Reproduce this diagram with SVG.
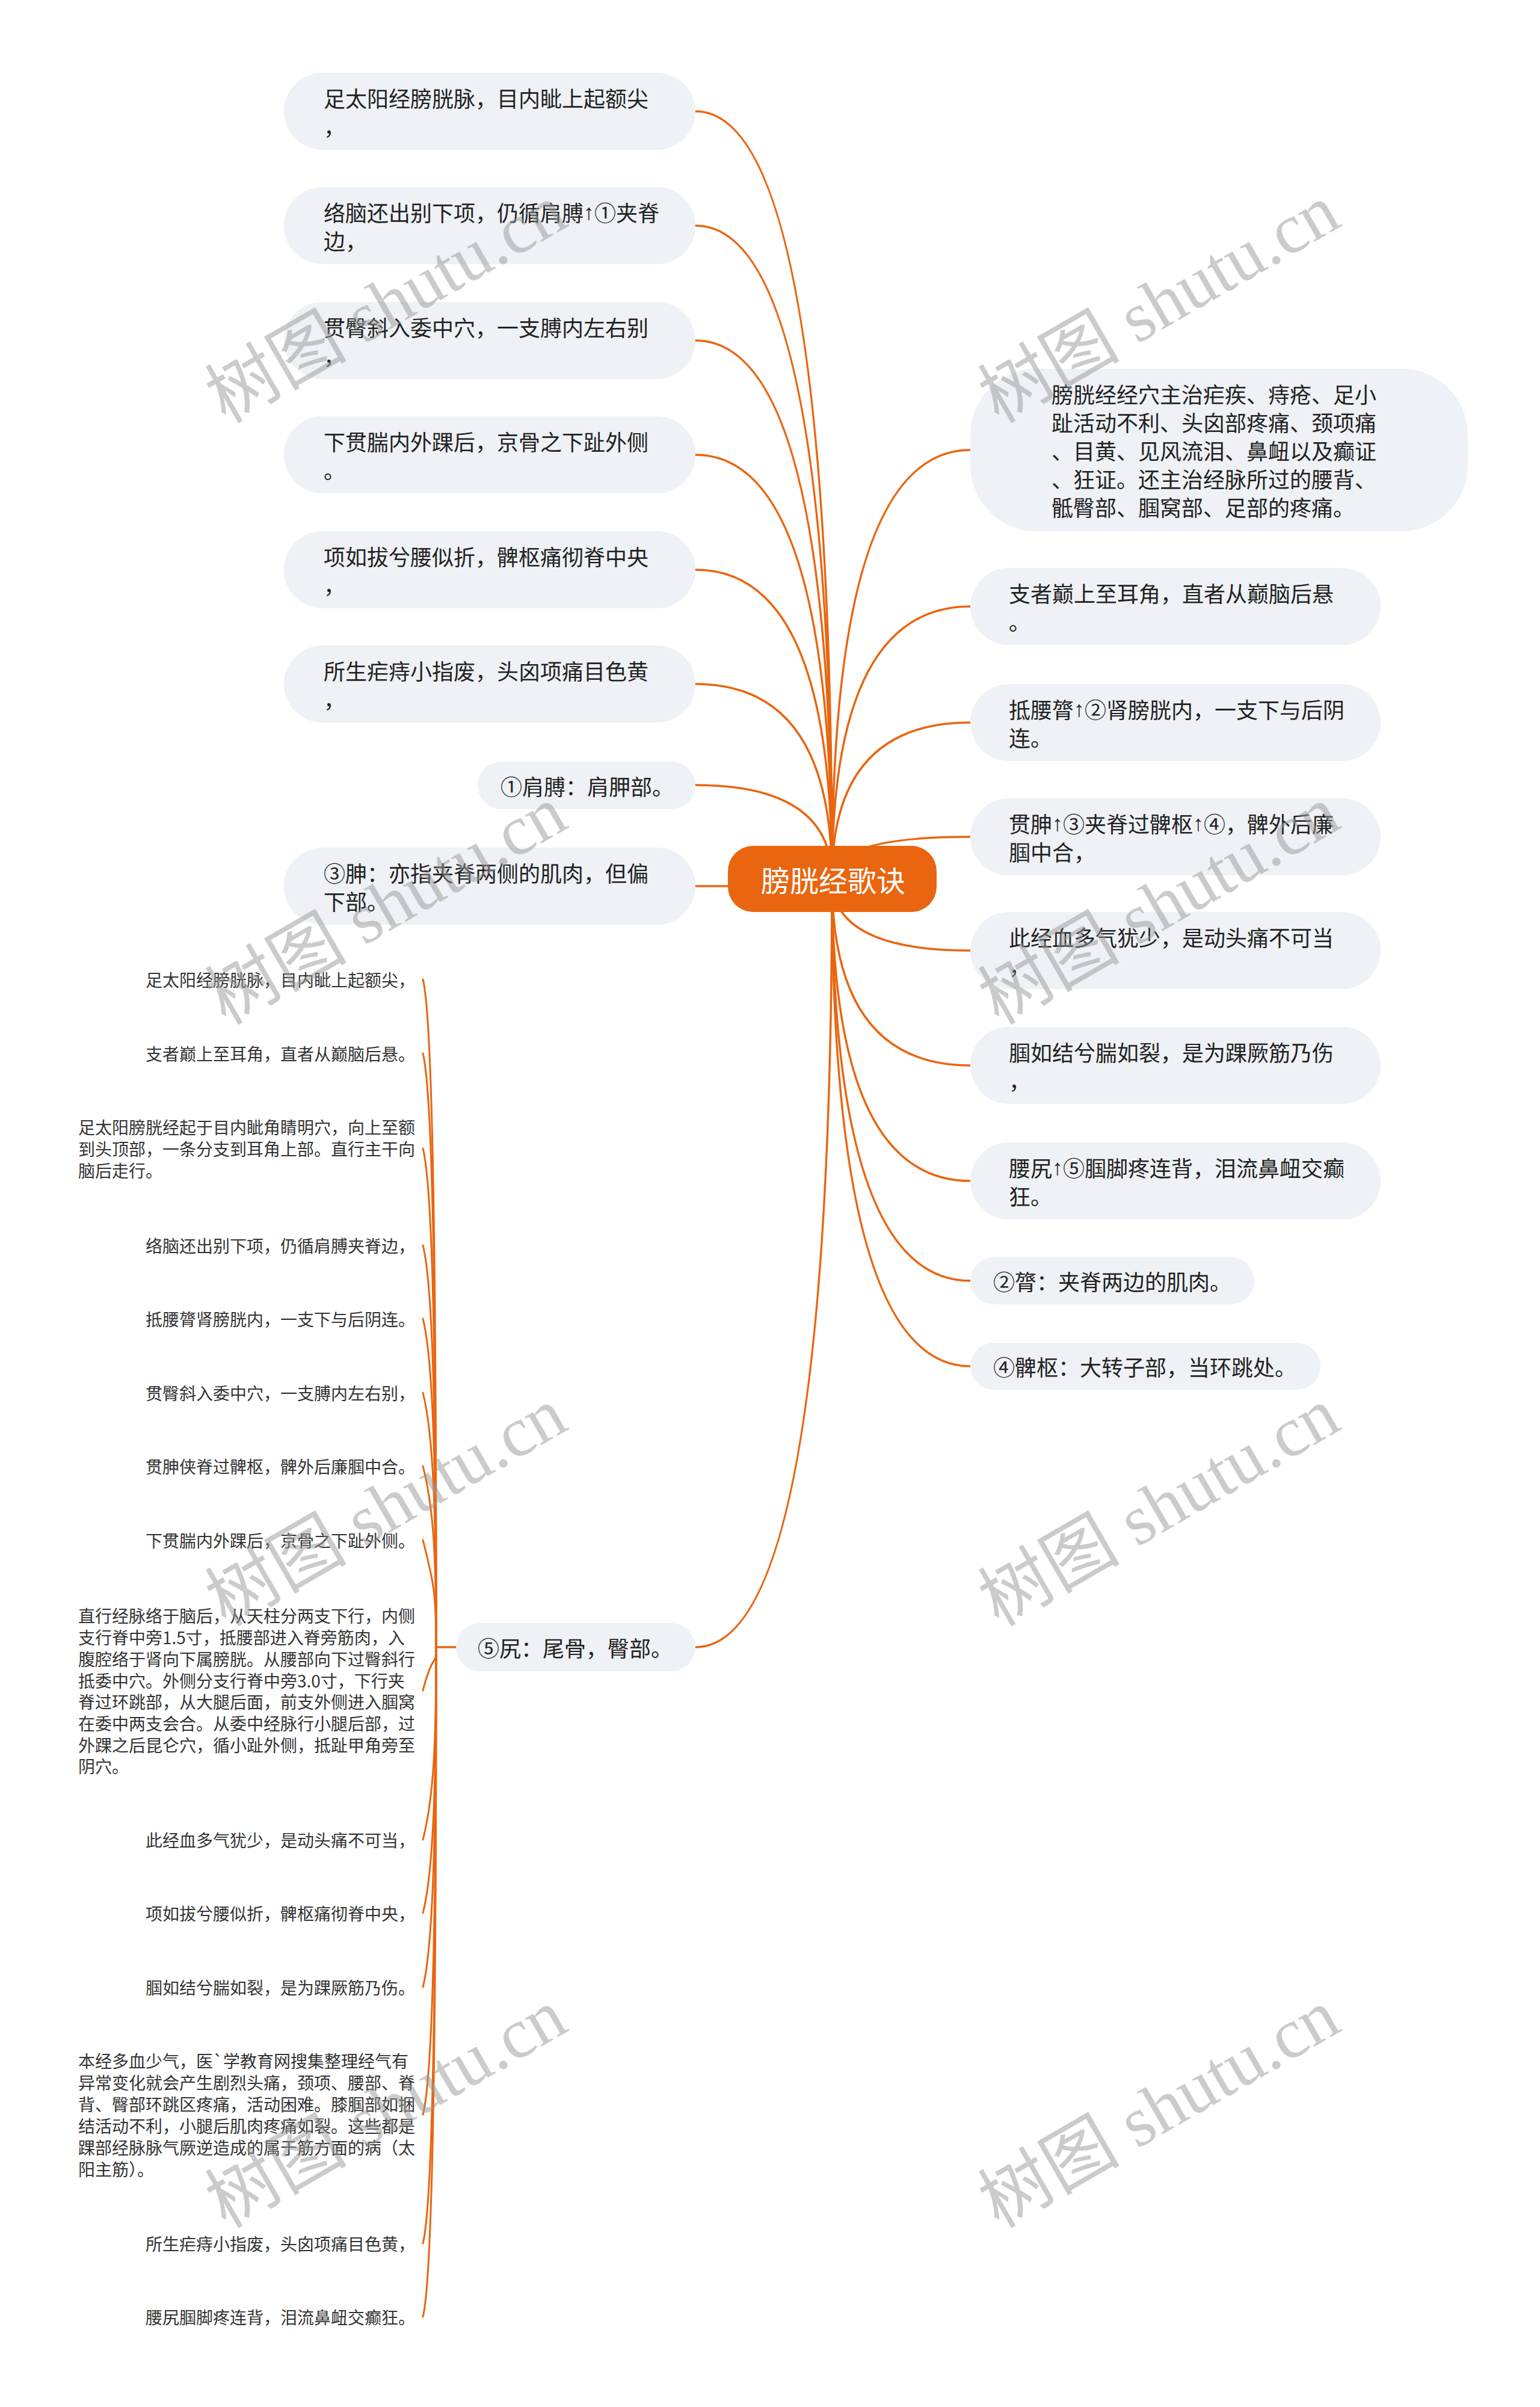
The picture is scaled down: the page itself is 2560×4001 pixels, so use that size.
<svg xmlns="http://www.w3.org/2000/svg" width="2560" height="4001" viewBox="0 0 2560 4001">
<style>
.bg{fill:#ffffff}
.box{fill:#eef1f5}
.t{font-family:"Noto Sans CJK SC","Noto Sans",sans-serif;font-size:36px;fill:#222;dominant-baseline:central}
.ar{font-family:"Liberation Sans","DejaVu Sans",sans-serif}
.s{font-family:"Noto Sans CJK SC","Noto Sans",sans-serif;font-size:28px;fill:#333;dominant-baseline:central}
.root{fill:#e9650f}
.rt{font-family:"Noto Sans CJK SC","Noto Sans",sans-serif;font-size:48px;fill:#ffffff;dominant-baseline:central;text-anchor:middle}
.c{fill:none;stroke:#e9650f;stroke-width:3.5;stroke-linecap:round}
.k{fill:none;stroke:#e9650f;stroke-width:3;stroke-linecap:round}
.wm{font-family:"Liberation Serif","Noto Sans CJK SC",serif;font-size:118px;fill:#999;opacity:0.5}
</style>
<rect class="bg" x="0" y="0" width="2560" height="4001"/>
<g id="connectors">
<path class="c" d="M1383,1461 Q1383,185 1156,185"/>
<path class="c" d="M1383,1461 Q1383,375 1156,375"/>
<path class="c" d="M1383,1461 Q1383,566 1156,566"/>
<path class="c" d="M1383,1461 Q1383,756 1156,756"/>
<path class="c" d="M1383,1461 Q1383,947 1156,947"/>
<path class="c" d="M1383,1461 Q1383,1137 1156,1137"/>
<path class="c" d="M1383,1461 Q1383,1305 1156,1305"/>
<path class="c" d="M1383,1461 Q1383,1473 1156,1473"/>
<path class="c" d="M1383,1461 Q1383,2738 1156,2738"/>
<path class="c" d="M1383,1461 Q1383,748 1613,748"/>
<path class="c" d="M1383,1461 Q1383,1008 1613,1008"/>
<path class="c" d="M1383,1461 Q1383,1201 1613,1201"/>
<path class="c" d="M1383,1461 Q1383,1391 1613,1391"/>
<path class="c" d="M1383,1461 Q1383,1580 1613,1580"/>
<path class="c" d="M1383,1461 Q1383,1771 1613,1771"/>
<path class="c" d="M1383,1461 Q1383,1963 1613,1963"/>
<path class="c" d="M1383,1461 Q1383,2129 1613,2129"/>
<path class="c" d="M1383,1461 Q1383,2271 1613,2271"/>
<path class="c" d="M758,2738 L725,2738"/>
<path class="k" d="M725,2738 C725,2183 721,1697 703,1628"/>
<path class="k" d="M725,2738 C725,2244 721,1821 703,1751"/>
<path class="k" d="M725,2738 C725,2323 721,1979 703,1909"/>
<path class="k" d="M725,2738 C725,2404 721,2140 703,2070"/>
<path class="k" d="M725,2738 C725,2465 721,2262 703,2192"/>
<path class="k" d="M725,2738 C725,2526 721,2385 703,2315"/>
<path class="k" d="M725,2738 C725,2588 721,2507 703,2437"/>
<path class="k" d="M725,2738 C725,2649 721,2630 703,2560"/>
<path class="k" d="M725,2738 C725,2774 721,2740 703,2810"/>
<path class="k" d="M725,2738 C725,2898 721,2988 703,3058"/>
<path class="k" d="M725,2738 C725,2959 721,3110 703,3180"/>
<path class="k" d="M725,2738 C725,3020 721,3233 703,3303"/>
<path class="k" d="M725,2738 C725,3126 721,3445 703,3515"/>
<path class="k" d="M725,2738 C725,3233 721,3659 703,3729"/>
<path class="k" d="M725,2738 C725,3294 721,3781 703,3851"/>
</g>
<g id="root">
<rect class="root" x="1210" y="1406" width="347" height="110" rx="42"/>
<text class="rt" x="1385" y="1461">膀胱经歌诀</text>
</g>
<g id="L1"><rect class="box" x="472" y="121" width="684" height="128" rx="64"/>
<text class="t" x="538" y="161.5">足太阳经膀胱脉，目内眦上起额尖</text><text class="t" x="538" y="208.5">，</text></g>
<g id="L2"><rect class="box" x="472" y="311" width="684" height="128" rx="64"/>
<text class="t" x="538" y="351.5">络脑还出别下项，仍循肩膊<tspan class="ar">↑</tspan>①夹脊</text><text class="t" x="538" y="398.5">边，</text></g>
<g id="L3"><rect class="box" x="472" y="502" width="684" height="128" rx="64"/>
<text class="t" x="538" y="542.5">贯臀斜入委中穴，一支膊内左右别</text><text class="t" x="538" y="589.5">，</text></g>
<g id="L4"><rect class="box" x="472" y="692" width="684" height="128" rx="64"/>
<text class="t" x="538" y="732.5">下贯腨内外踝后，京骨之下趾外侧</text><text class="t" x="538" y="779.5">。</text></g>
<g id="L5"><rect class="box" x="472" y="883" width="684" height="128" rx="64"/>
<text class="t" x="538" y="923.5">项如拔兮腰似折，髀枢痛彻脊中央</text><text class="t" x="538" y="970.5">，</text></g>
<g id="L6"><rect class="box" x="472" y="1073" width="684" height="128" rx="64"/>
<text class="t" x="538" y="1113.5">所生疟痔小指废，头囟项痛目色黄</text><text class="t" x="538" y="1160.5">，</text></g>
<g id="L7"><rect class="box" x="794" y="1266" width="362" height="79" rx="39.5"/>
<text class="t" x="832" y="1305.5">①肩膊：肩胛部。</text></g>
<g id="L8"><rect class="box" x="472" y="1409" width="684" height="128" rx="64"/>
<text class="t" x="538" y="1449.5">③胂：亦指夹脊两侧的肌肉，但偏</text><text class="t" x="538" y="1496.5">下部。</text></g>
<g id="R1"><rect class="box" x="1613" y="613" width="827" height="270" rx="110"/>
<text class="t" x="1748" y="654">膀胱经经穴主治疟疾、痔疮、足小</text>
<text class="t" x="1748" y="701">趾活动不利、头囟部疼痛、颈项痛</text>
<text class="t" x="1748" y="748">、目黄、见风流泪、鼻衄以及癫证</text>
<text class="t" x="1748" y="795">、狂证。还主治经脉所过的腰背、</text>
<text class="t" x="1748" y="842">骶臀部、腘窝部、足部的疼痛。</text></g>
<g id="R2"><rect class="box" x="1613" y="944" width="682" height="128" rx="64"/>
<text class="t" x="1677" y="984.5">支者巅上至耳角，直者从巅脑后悬</text><text class="t" x="1677" y="1031.5">。</text></g>
<g id="R3"><rect class="box" x="1613" y="1137" width="682" height="128" rx="64"/>
<text class="t" x="1677" y="1177.5">抵腰膂<tspan class="ar">↑</tspan>②肾膀胱内，一支下与后阴</text><text class="t" x="1677" y="1224.5">连。</text></g>
<g id="R4"><rect class="box" x="1613" y="1327" width="682" height="128" rx="64"/>
<text class="t" x="1677" y="1367.5">贯胂<tspan class="ar">↑</tspan>③夹脊过髀枢<tspan class="ar">↑</tspan>④，髀外后廉</text><text class="t" x="1677" y="1414.5">腘中合，</text></g>
<g id="R5"><rect class="box" x="1613" y="1516" width="682" height="128" rx="64"/>
<text class="t" x="1677" y="1556.5">此经血多气犹少，是动头痛不可当</text><text class="t" x="1677" y="1603.5">，</text></g>
<g id="R6"><rect class="box" x="1613" y="1707" width="682" height="128" rx="64"/>
<text class="t" x="1677" y="1747.5">腘如结兮腨如裂，是为踝厥筋乃伤</text><text class="t" x="1677" y="1794.5">，</text></g>
<g id="R7"><rect class="box" x="1613" y="1899" width="682" height="128" rx="64"/>
<text class="t" x="1677" y="1939.5">腰尻<tspan class="ar">↑</tspan>⑤腘脚疼连背，泪流鼻衄交癫</text><text class="t" x="1677" y="1986.5">狂。</text></g>
<g id="R8"><rect class="box" x="1613" y="2090" width="472" height="78" rx="39"/>
<text class="t" x="1651" y="2129">②膂：夹脊两边的肌肉。</text></g>
<g id="R9"><rect class="box" x="1613" y="2232" width="582" height="78" rx="39"/>
<text class="t" x="1651" y="2271">④髀枢：大转子部，当环跳处。</text></g>
<g id="L9"><rect class="box" x="758" y="2698" width="398" height="80" rx="40"/>
<text class="t" x="794" y="2738">⑤尻：尾骨，臀部。</text></g>
<g id="C1"><text class="s" x="690" y="1628" text-anchor="end">足太阳经膀胱脉，目内眦上起额尖，</text></g>
<g id="C2"><text class="s" x="690" y="1751" text-anchor="end">支者巅上至耳角，直者从巅脑后悬。</text></g>
<g id="C3"><text class="s" x="130" y="1873">足太阳膀胱经起于目内眦角睛明穴，向上至额</text>
<text class="s" x="130" y="1909">到头顶部，一条分支到耳角上部。直行主干向</text>
<text class="s" x="130" y="1945">脑后走行。</text></g>
<g id="C4"><text class="s" x="690" y="2070" text-anchor="end">络脑还出别下项，仍循肩膊夹脊边，</text></g>
<g id="C5"><text class="s" x="690" y="2192" text-anchor="end">抵腰膂肾膀胱内，一支下与后阴连。</text></g>
<g id="C6"><text class="s" x="690" y="2315" text-anchor="end">贯臀斜入委中穴，一支膊内左右别，</text></g>
<g id="C7"><text class="s" x="690" y="2437" text-anchor="end">贯胂侠脊过髀枢，髀外后廉腘中合。</text></g>
<g id="C8"><text class="s" x="690" y="2560" text-anchor="end">下贯腨内外踝后，京骨之下趾外侧。</text></g>
<g id="C9"><text class="s" x="130" y="2685">直行经脉络于脑后，从天柱分两支下行，内侧</text>
<text class="s" x="130" y="2721">支行脊中旁1.5寸，抵腰部进入脊旁筋肉，入</text>
<text class="s" x="130" y="2757">腹腔络于肾向下属膀胱。从腰部向下过臀斜行</text>
<text class="s" x="130" y="2793">抵委中穴。外侧分支行脊中旁3.0寸，下行夹</text>
<text class="s" x="130" y="2828">脊过环跳部，从大腿后面，前支外侧进入腘窝</text>
<text class="s" x="130" y="2864">在委中两支会合。从委中经脉行小腿后部，过</text>
<text class="s" x="130" y="2900">外踝之后昆仑穴，循小趾外侧，抵趾甲角旁至</text>
<text class="s" x="130" y="2935">阴穴。</text></g>
<g id="C10"><text class="s" x="690" y="3058" text-anchor="end">此经血多气犹少，是动头痛不可当，</text></g>
<g id="C11"><text class="s" x="690" y="3180" text-anchor="end">项如拔兮腰似折，髀枢痛彻脊中央，</text></g>
<g id="C12"><text class="s" x="690" y="3303" text-anchor="end">腘如结兮腨如裂，是为踝厥筋乃伤。</text></g>
<g id="C13"><text class="s" x="130" y="3425">本经多血少气，医`学教育网搜集整理经气有</text>
<text class="s" x="130" y="3461">异常变化就会产生剧烈头痛，颈项、腰部、脊</text>
<text class="s" x="130" y="3497">背、臀部环跳区疼痛，活动困难。膝腘部如捆</text>
<text class="s" x="130" y="3533">结活动不利，小腿后肌肉疼痛如裂。这些都是</text>
<text class="s" x="130" y="3569">踝部经脉脉气厥逆造成的属于筋方面的病（太</text>
<text class="s" x="130" y="3605">阳主筋）。</text></g>
<g id="C14"><text class="s" x="690" y="3729" text-anchor="end">所生疟痔小指废，头囟项痛目色黄，</text></g>
<g id="C15"><text class="s" x="690" y="3851" text-anchor="end">腰尻腘脚疼连背，泪流鼻衄交癫狂。</text></g>
<g id="watermarks">
<text class="wm" transform="translate(375,705) rotate(-30)">树图 shutu.cn</text>
<text class="wm" transform="translate(1660,705) rotate(-30)">树图 shutu.cn</text>
<text class="wm" transform="translate(375,1705) rotate(-30)">树图 shutu.cn</text>
<text class="wm" transform="translate(1660,1705) rotate(-30)">树图 shutu.cn</text>
<text class="wm" transform="translate(375,2705) rotate(-30)">树图 shutu.cn</text>
<text class="wm" transform="translate(1660,2705) rotate(-30)">树图 shutu.cn</text>
<text class="wm" transform="translate(375,3705) rotate(-30)">树图 shutu.cn</text>
<text class="wm" transform="translate(1660,3705) rotate(-30)">树图 shutu.cn</text>
</g>
</svg>
